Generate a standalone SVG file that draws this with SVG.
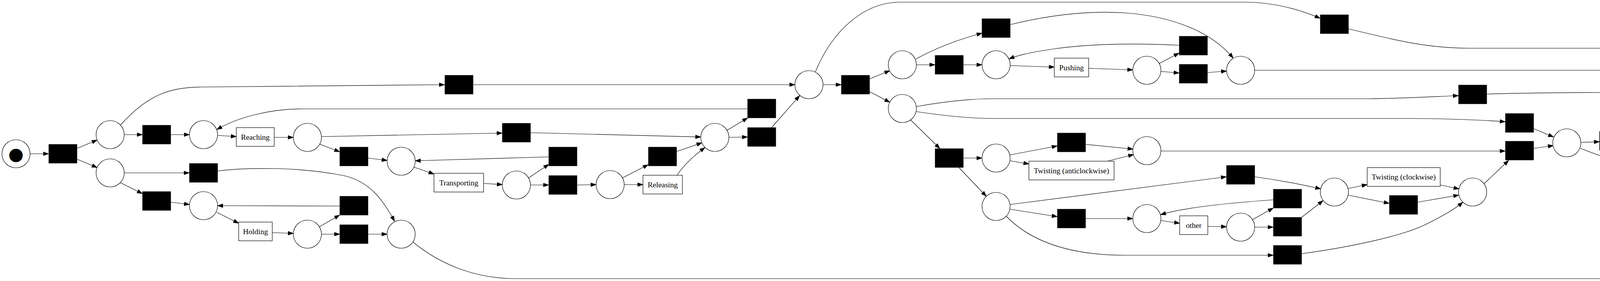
<svg xmlns="http://www.w3.org/2000/svg" width="5523" height="720" viewBox="0 0 5523 720">
<style>
.p{fill:#fff;stroke:#000;stroke-width:1.2}
.t{fill:#000;stroke:#000;stroke-width:1}
.l{fill:#fff;stroke:#000;stroke-width:1.2}
.e{fill:none;stroke:#000;stroke-width:1.2;marker-end:url(#ah)}
.tx{font-family:"Liberation Serif","Times New Roman",serif;font-size:19.5px;text-anchor:middle;fill:#000}
.tk{font-family:"DejaVu Sans",sans-serif;text-anchor:middle;dominant-baseline:central;fill:#000}
</style>
<defs>
<marker id="ah" markerUnits="userSpaceOnUse" markerWidth="15" markerHeight="11" refX="13.3" refY="4.67" orient="auto" overflow="visible">
<path d="M0,0 L13.3,4.67 L0,9.33 z" fill="#000" stroke="#000" stroke-width="1"/>
</marker>
</defs>
<rect width="5523" height="720" fill="#fff"/>
<g id="edges">
<path class="e" d="M77,394 L124.5,394"/>
<path class="e" d="M197.5,380 L248.7,358.8"/>
<path class="e" d="M197.5,408 L248.7,429.2"/>
<path class="e" d="M318,345 L364.5,345"/>
<path class="e" d="M437.5,345 L485,345"/>
<path class="e" d="M557,347 L605,350"/>
<path class="e" d="M702,352 L751,352"/>
<path class="e" d="M823,350 L1285.5,341"/>
<path class="e" d="M818,369 L869.5,389"/>
<path class="e" d="M942.5,405 L991,411"/>
<path class="e" d="M1059,428 L1111,446"/>
<path class="e" d="M1238,470 L1286,473"/>
<path class="e" d="M1353,456 L1405,421"/>
<path class="e" d="M1358,474 L1404.5,474"/>
<path class="e" d="M1404.5,402 L1063,412"/>
<path class="e" d="M1477.5,474 L1526,473"/>
<path class="e" d="M1593,456 L1659.5,422"/>
<path class="e" d="M1598,473 L1646,473"/>
<path class="e" d="M1732.5,388 L1797,366"/>
<path class="e" d="M1733,449 Q1760,410 1805,378"/>
<path class="e" d="M1358.5,340 L1794,351"/>
<path class="e" d="M318,443 L484.5,443"/>
<path class="e" d="M308,468 L364.5,496"/>
<path class="e" d="M437.5,518 L485,524"/>
<path class="e" d="M555,544 L611,572"/>
<path class="e" d="M697,596 L751,598"/>
<path class="e" d="M818,581 L869.5,551"/>
<path class="e" d="M823,600 L869.5,600"/>
<path class="e" d="M869.5,528 L557,527"/>
<path class="e" d="M942.5,600 L991,600"/>
<path class="e" d="M557.5,438 C640,428 770,428 880,450 C950,465 985,520 1010,567"/>
<path class="e" d="M1057,620 C1130,680 1220,714 1320,714 L4861,714 C4960,714 5050,600 5087,482"/>
<path class="e" d="M1861,334 L1914,302"/>
<path class="e" d="M1866,352 L1913.5,351"/>
<path class="e" d="M1913.5,279 L775,279 C690,279 610,300 555,332"/>
<path class="e" d="M1976,326 L2047,245"/>
<path class="e" d="M309,320 C380,240 440,223 516,223 L1138,217"/>
<path class="e" d="M1211.5,217 L2035,217"/>
<path class="e" d="M2107,217 L2153.5,217"/>
<path class="e" d="M2087,185 C2130,80 2210,5.5 2305,5.5 L3187,5.5 C3260,5.5 3330,25 3379.5,47"/>
<path class="e" d="M2226.5,202 L2278,181"/>
<path class="e" d="M2226.5,235 L2278,262"/>
<path class="e" d="M2346,166 L2393.5,166"/>
<path class="e" d="M2345,151 Q2420,110 2514,85"/>
<path class="e" d="M2466.5,166 L2514,166"/>
<path class="e" d="M2586,168 L2699,172"/>
<path class="e" d="M2787,175 L2900,179"/>
<path class="e" d="M2967,163 L3018.5,136"/>
<path class="e" d="M2972,183 L3018.5,187"/>
<path class="e" d="M3018.5,116 C2900,110 2780,112 2680,128 C2630,136 2605,142 2583,151"/>
<path class="e" d="M3091.5,186 L3140,182"/>
<path class="e" d="M2586.5,63 C2700,35 2800,28 2880,33 C3000,42 3100,80 3157,149"/>
<path class="e" d="M3212,180 L4630,180 C4700,181 4770,195 4820.5,207"/>
<path class="e" d="M3452.5,74 C3560,100 3650,123.5 3760,123.5 L4744,123.5 C4830,123.5 4900,160 4947,197"/>
<path class="e" d="M2346,273 C2420,260 2480,253 2540,253 L3500,253 C3600,252 3680,247 3733.5,245"/>
<path class="e" d="M2346,286 C2420,297 2480,303.5 2540,303.5 L3600,303.5 C3720,304 3800,308 3853.5,312"/>
<path class="e" d="M2331,307 L2406,380.5"/>
<path class="e" d="M2466.5,405 L2514,405"/>
<path class="e" d="M2455,429.5 L2525,503"/>
<path class="e" d="M2585,397 L2706.5,374"/>
<path class="e" d="M2586,412 L2634,420"/>
<path class="e" d="M2779.5,370 L2900.5,382"/>
<path class="e" d="M2835,413 L2902,396"/>
<path class="e" d="M2972,387 L3853.5,387"/>
<path class="e" d="M2586,524 L3139.5,453"/>
<path class="e" d="M2585,536 L2706.5,555"/>
<path class="e" d="M2576,554 C2640,620 2740,654 2880,654 L3259.5,654"/>
<path class="e" d="M2779.5,560 L2900,560"/>
<path class="e" d="M2971.5,565 L3020,572"/>
<path class="e" d="M3092,580 L3140,581"/>
<path class="e" d="M3206,563 L3259.5,533"/>
<path class="e" d="M3212,582 L3259.5,582"/>
<path class="e" d="M3259.5,512 C3150,520 3040,530 2971,550"/>
<path class="e" d="M3332,557 L3387,514"/>
<path class="e" d="M3212.5,453 Q3300,465 3381,484"/>
<path class="e" d="M3451,483 L3500,473"/>
<path class="e" d="M3451,500 L3556.5,521"/>
<path class="e" d="M3687,474 L3735,484"/>
<path class="e" d="M3629.5,518 L3734.5,500"/>
<path class="e" d="M3332.5,650 C3480,630 3600,600 3650,575 C3700,550 3725,535 3745,518"/>
<path class="e" d="M3799,471 L3862,411"/>
<path class="e" d="M3927,330 L3977,351"/>
<path class="e" d="M3927,380 L3976.5,373"/>
<path class="e" d="M4047,365 L4094.5,363"/>
<path class="e" d="M4167.5,359 L4214,357"/>
<path class="e" d="M4286,357 L4335,359"/>
<path class="e" d="M4413,363 L4461,366"/>
<path class="e" d="M4046,380 Q4120,410 4214,432"/>
<path class="e" d="M4287,445 C4380,456 4520,450 4620,420 C4670,405 4700,375 4716,344"/>
<path class="e" d="M4530,348 L4581.5,319"/>
<path class="e" d="M4533,368 L4581.5,369.5"/>
<path class="e" d="M4581.5,298 C4480,302 4350,315 4283,341"/>
<path class="e" d="M4654.5,354 L4705,330"/>
<path class="e" d="M3806.5,241 C3900,238 4000,237 4100,237 L4560,237 C4620,240 4680,260 4708,293"/>
<path class="e" d="M4766,293 L4826,240"/>
<path class="e" d="M4893.5,216 L4941,216"/>
<path class="e" d="M4995,247 L5084,433"/>
<path class="e" d="M5133.5,457 L5181,457"/>
<path class="e" d="M5252,448 L5306.5,432"/>
<path class="e" d="M5252,467 L5301,481"/>
<path class="e" d="M5379.5,432 L5437,446"/>
<path class="e" d="M5387,481 L5437,468"/>
</g>
<g id="p0"><circle class="p" cx="41" cy="394" r="36"/><text class="tk" x="41" y="394" font-size="45">●</text></g>
<g id="p1"><circle class="p" cx="282" cy="345" r="36"/></g>
<g id="p2"><circle class="p" cx="282" cy="443" r="36"/></g>
<g id="p3"><circle class="p" cx="521" cy="345" r="36"/></g>
<g id="p4"><circle class="p" cx="787" cy="352" r="36"/></g>
<g id="p5"><circle class="p" cx="521" cy="527" r="36"/></g>
<g id="p6"><circle class="p" cx="787" cy="600" r="36"/></g>
<g id="p8"><circle class="p" cx="1027" cy="413" r="36"/></g>
<g id="p10"><circle class="p" cx="1322" cy="474" r="36"/></g>
<g id="p11"><circle class="p" cx="1562" cy="473" r="36"/></g>
<g id="p12"><circle class="p" cx="1027" cy="600" r="36"/></g>
<g id="p9"><circle class="p" cx="1830" cy="352" r="36"/></g>
<g id="p7"><circle class="p" cx="2071" cy="217" r="36"/></g>
<g id="p13"><circle class="p" cx="2310" cy="166" r="36"/></g>
<g id="p14"><circle class="p" cx="2310" cy="278" r="36"/></g>
<g id="p15"><circle class="p" cx="2550" cy="166" r="36"/></g>
<g id="p16"><circle class="p" cx="2550" cy="405" r="36"/></g>
<g id="p17"><circle class="p" cx="2550" cy="529" r="36"/></g>
<g id="p19"><circle class="p" cx="2936" cy="180" r="36"/></g>
<g id="p18"><circle class="p" cx="3176" cy="180" r="36"/></g>
<g id="p21"><circle class="p" cx="2936" cy="386" r="36"/></g>
<g id="p22"><circle class="p" cx="2936" cy="560" r="36"/></g>
<g id="p23"><circle class="p" cx="3176" cy="582" r="36"/></g>
<g id="p24"><circle class="p" cx="3416" cy="492" r="36"/></g>
<g id="p25"><circle class="p" cx="3770" cy="492" r="36"/></g>
<g id="p26"><circle class="p" cx="4011" cy="366" r="36"/></g>
<g id="p27"><circle class="p" cx="4250" cy="356" r="36"/></g>
<g id="p28"><circle class="p" cx="4497" cy="367" r="36"/></g>
<g id="p20"><circle class="p" cx="4737" cy="315" r="36"/></g>
<g id="p29"><circle class="p" cx="4977" cy="216" r="36"/></g>
<g id="p30"><circle class="p" cx="5217" cy="457" r="36"/></g>
<g id="p31"><circle class="p" cx="5476" cy="457" r="40"/><circle class="p" cx="5476" cy="457" r="36"/><text class="tk" x="5476" y="457" font-size="42">■</text></g>
<g id="t0"><rect class="t" x="125" y="370" width="72" height="48"/></g>
<g id="t1"><rect class="t" x="365" y="321" width="72" height="48"/></g>
<g id="t2"><rect class="t" x="485" y="419" width="72" height="48"/></g>
<g id="t3"><rect class="t" x="365" y="491" width="72" height="48"/></g>
<g id="tR"><rect class="t" x="870" y="377" width="72" height="48"/></g>
<g id="t4"><rect class="t" x="870" y="503" width="72" height="48"/></g>
<g id="t5"><rect class="t" x="870" y="576" width="72" height="48"/></g>
<g id="t6"><rect class="t" x="1139" y="193" width="72" height="48"/></g>
<g id="t8"><rect class="t" x="1286" y="316" width="72" height="48"/></g>
<g id="t9"><rect class="t" x="1405" y="377" width="72" height="48"/></g>
<g id="t10"><rect class="t" x="1405" y="450" width="72" height="48"/></g>
<g id="t11"><rect class="t" x="1660" y="377" width="72" height="48"/></g>
<g id="t7"><rect class="t" x="1914" y="254" width="72" height="48"/></g>
<g id="t12"><rect class="t" x="1914" y="327" width="72" height="48"/></g>
<g id="t13"><rect class="t" x="2154" y="193" width="72" height="48"/></g>
<g id="t14"><rect class="t" x="2394" y="142" width="72" height="48"/></g>
<g id="t15"><rect class="t" x="2514" y="48" width="72" height="48"/></g>
<g id="t16"><rect class="t" x="2394" y="381" width="72" height="48"/></g>
<g id="t17"><rect class="t" x="2707" y="341" width="72" height="48"/></g>
<g id="t18"><rect class="t" x="2707" y="536" width="72" height="48"/></g>
<g id="t19"><rect class="t" x="3380" y="38" width="72" height="48"/></g>
<g id="t20"><rect class="t" x="3260" y="629" width="72" height="48"/></g>
<g id="t21"><rect class="t" x="3019" y="93" width="72" height="48"/></g>
<g id="t22"><rect class="t" x="3019" y="165" width="72" height="48"/></g>
<g id="t24"><rect class="t" x="3734" y="218" width="72" height="48"/></g>
<g id="t25"><rect class="t" x="3854" y="291" width="72" height="48"/></g>
<g id="t26"><rect class="t" x="3854" y="362" width="72" height="48"/></g>
<g id="t27"><rect class="t" x="3140" y="424" width="72" height="48"/></g>
<g id="t28"><rect class="t" x="3260" y="485" width="72" height="48"/></g>
<g id="t29"><rect class="t" x="3260" y="557" width="72" height="48"/></g>
<g id="t30"><rect class="t" x="3557" y="501" width="72" height="48"/></g>
<g id="t31"><rect class="t" x="4095" y="337" width="72" height="48"/></g>
<g id="t32"><rect class="t" x="4214" y="416" width="72" height="48"/></g>
<g id="t33"><rect class="t" x="4582" y="274" width="72" height="48"/></g>
<g id="t34"><rect class="t" x="4582" y="347" width="72" height="48"/></g>
<g id="t23"><rect class="t" x="4821" y="192" width="72" height="48"/></g>
<g id="t35"><rect class="t" x="5061" y="433" width="72" height="48"/></g>
<g id="t36"><rect class="t" x="5307" y="397" width="72" height="48"/></g>
<g id="reaching"><rect class="l" x="605" y="327" width="97" height="48"/><text class="tx" x="653.5" y="357.5">Reaching</text></g>
<g id="holding"><rect class="l" x="611" y="569" width="86" height="48"/><text class="tx" x="654" y="599.5">Holding</text></g>
<g id="transporting"><rect class="l" x="1111" y="444" width="127" height="48"/><text class="tx" x="1174.5" y="474.5">Transporting</text></g>
<g id="releasing"><rect class="l" x="1646" y="449" width="101" height="48"/><text class="tx" x="1696.5" y="479.5">Releasing</text></g>
<g id="pushing"><rect class="l" x="2699" y="149" width="88" height="48"/><text class="tx" x="2743" y="179.5">Pushing</text></g>
<g id="twist_ac"><rect class="l" x="2634" y="413" width="218" height="48"/><text class="tx" x="2743" y="443.5">Twisting (anticlockwise)</text></g>
<g id="other"><rect class="l" x="3020" y="553" width="72" height="48"/><text class="tx" x="3056" y="583.5">other</text></g>
<g id="twist_cw"><rect class="l" x="3500" y="429.5" width="187" height="48"/><text class="tx" x="3593.5" y="460">Twisting (clockwise)</text></g>
<g id="pulling"><rect class="l" x="4335" y="337" width="78" height="48"/><text class="tx" x="4374" y="367.5">Pulling</text></g>
<g id="pouring"><rect class="l" x="5301" y="469" width="86" height="48"/><text class="tx" x="5344" y="499.5">Pouring</text></g>
</svg>
